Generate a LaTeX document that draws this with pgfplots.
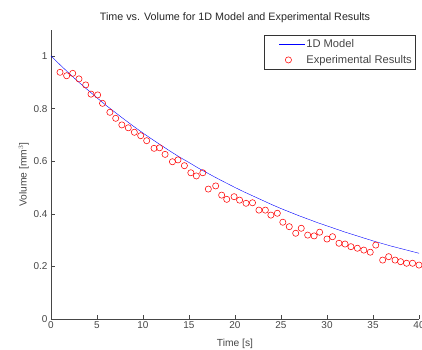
\documentclass[border=0pt]{standalone}
\usepackage{fontspec}
\setmainfont{Liberation Sans}
\usepackage{pgfplots}
\pgfplotsset{compat=1.18}
\usetikzlibrary{calc}
\definecolor{axgray}{RGB}{70,70,70}
\pgfplotsset{
  linelegend/.style={legend image code/.code={\path[draw=none] (-0.45cm,0cm) -- (0.92cm,0cm); \draw[##1] (0cm,0cm) -- (0.92cm,0cm);}},
  marklegend/.style={legend image code/.code={\path[draw=none] (-0.45cm,0cm) -- (0.92cm,0cm); \draw[##1,only marks] plot coordinates {(0.33cm,0cm)};}},
}
\begin{document}
\begin{tikzpicture}
\begin{axis}[
  name=ax,
  scale only axis,
  width=368bp, height=289.3bp,
  xmin=0, xmax=40, ymin=0, ymax=1.1,
  axis x line=bottom, axis y line=left,
  axis line style={axgray, -},
  xtick={0,5,...,40}, ytick={0,0.2,0.4,0.6,0.8,1},
  yticklabels={0,0.2,0.4,0.6,0.8,1},
  tick style={axgray, thin},
  tick align=inside,
  major tick length=4bp,
  ticklabel style={font=\fontsize{10}{11}\selectfont, text=axgray},
  xticklabel style={yshift=1bp},
  /pgf/number format/assume math mode=true,
  xlabel={Time [s]}, ylabel={Volume [mm$^3$]},
  label style={font=\fontsize{10.3}{12}\selectfont, text=axgray},
  xlabel style={yshift=-4bp},
  ylabel style={yshift=-2bp},
  title={Time vs. Volume for 1D Model and Experimental Results},
  title style={font=\fontsize{10.8}{12}\selectfont, text=black!85, yshift=-3bp},
  legend style={at={(0.989,0.982)}, anchor=north east, font=\fontsize{11.2}{12}\selectfont, text=axgray, draw=black!80, inner sep=2pt, row sep=2.5pt, nodes={inner xsep=1pt}},
  legend cell align=left,
  clip=false,
]
\addplot[blue, thin, no markers, linelegend] coordinates {
(0,1.000) (1,0.966) (2,0.933) (3,0.901) (4,0.871) (5,0.841) (6,0.812) (7,0.785) (8,0.758) (9,0.732)
(10,0.707) (11,0.683) (12,0.660) (13,0.637) (14,0.615) (15,0.595) (16,0.574) (17,0.555) (18,0.536) (19,0.518)
(20,0.500) (21,0.483) (22,0.467) (23,0.451) (24,0.435) (25,0.420) (26,0.406) (27,0.392) (28,0.379) (29,0.366)
(30,0.354) (31,0.342) (32,0.330) (33,0.319) (34,0.308) (35,0.297) (36,0.287) (37,0.277) (38,0.268) (39,0.259) (40,0.250)
};
\addlegendentry{1D Model}
\addplot[only marks, mark=o, mark size=3.1bp, red, mark options={line width=0.55pt}, marklegend] coordinates {
(0.98,0.938) (1.7,0.925) (2.36,0.934) (3.04,0.913) (3.77,0.890) (4.35,0.855) (5.07,0.852) (5.6,0.820)
(6.4,0.786) (7.03,0.763) (7.7,0.738) (8.4,0.727) (9.06,0.710) (9.75,0.697) (10.4,0.678) (11.2,0.649)
(11.8,0.651) (12.4,0.626) (13.2,0.598) (13.8,0.605) (14.5,0.583) (15.2,0.556) (15.8,0.544) (16.5,0.556)
(17.1,0.494) (17.9,0.506) (18.55,0.471) (19.1,0.455) (19.9,0.465) (20.5,0.452) (21.2,0.440) (21.9,0.442)
(22.6,0.414) (23.3,0.414) (23.9,0.395) (24.6,0.402) (25.2,0.368) (25.9,0.351) (26.6,0.326) (27.2,0.345)
(27.9,0.319) (28.6,0.316) (29.2,0.330) (30.0,0.304) (30.6,0.313) (31.3,0.288) (31.96,0.285) (32.6,0.275)
(33.3,0.269) (34.0,0.262) (34.7,0.254) (35.3,0.281) (36.05,0.224) (36.7,0.237) (37.4,0.224) (38.0,0.218)
(38.65,0.212) (39.3,0.212) (40.0,0.205)
};
\addlegendentry{Experimental Results}
\end{axis}
\pgfresetboundingbox
\path[use as bounding box] ($(ax.south west)+(-51bp,-31bp)$) rectangle ($(ax.north east)+(3bp,29.7bp)$);
\end{tikzpicture}
\end{document}
